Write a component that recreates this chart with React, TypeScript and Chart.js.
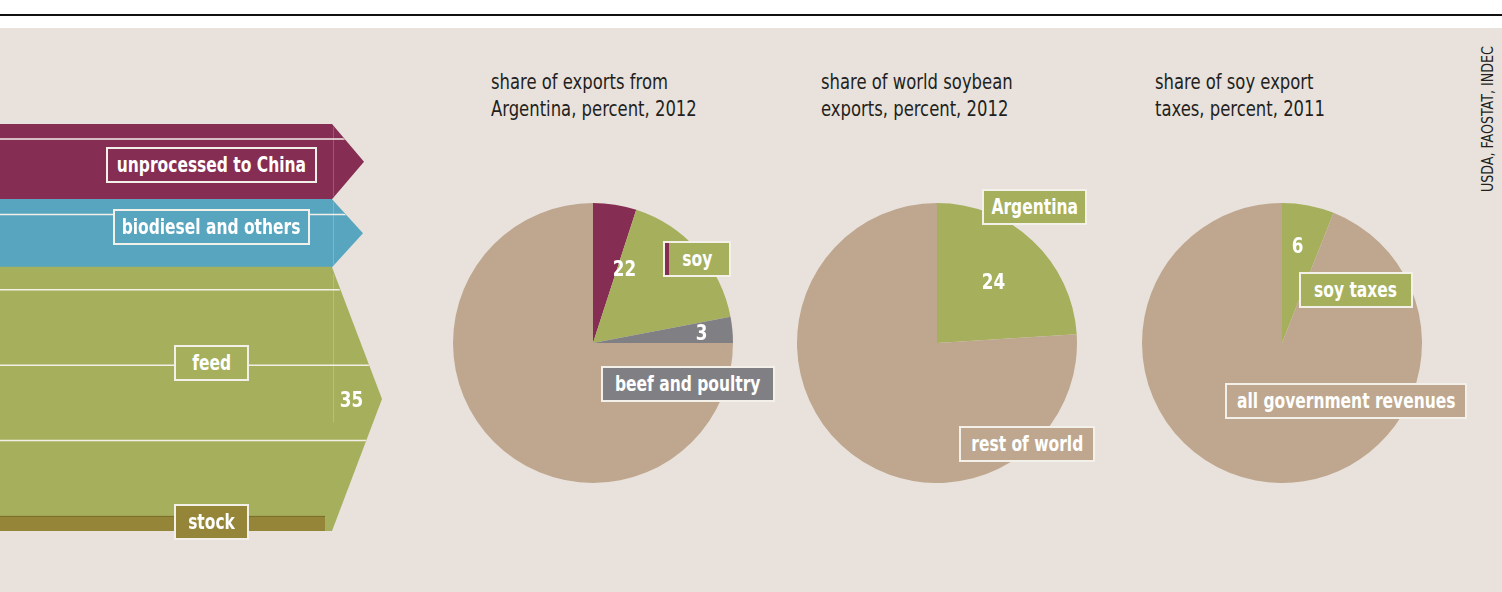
import React, { useEffect, useRef } from 'react';
import Chart from 'chart.js/auto';

// ---------- data ----------
const flowCategories = ['feed', 'biodiesel and others', 'unprocessed to China'];
const flowValues = [35, 9, 10];
const stockLabel = 'stock';
const stockValue = 2;
const flowLineValues = [12, 22, 32, 42, 52];

const exportCategories = ['soy, unprocessed', 'soy, processed', 'beef and poultry', 'other exports'];
const exportValues = [5, 17, 3, 75];
const worldCategories = ['Argentina', 'rest of world'];
const worldValues = [24, 76];
const taxCategories = ['soy taxes', 'all government revenues'];
const taxValues = [6, 94];

const pieTitles = [
  ['share of exports from', 'Argentina, percent, 2012'],
  ['share of world soybean', 'exports, percent, 2012'],
  ['share of soy export', 'taxes, percent, 2011'],
];
const sourceText = 'USDA, FAOSTAT, INDEC';

// ---------- styles ----------
const FONT = "'DejaVu Sans Condensed', 'DejaVu Sans', sans-serif";
const BOLD_SCALE = 0.82;
const TITLE_SCALE = 0.87;
const COL = {
  maroon: '#852d52',
  blue: '#58a5bf',
  green: '#a5af5c',
  stock: '#958538',
  stockEdge: '#7b6e2c',
  gray: '#808084',
  beige: '#bea78e',
  bg: '#e9e2dc',
  ink: '#231f20',
  line: '#f3efe8',
};
const flowColors = [COL.green, COL.blue, COL.maroon];
const flowTipDepths = [50, 31, 32];

function drawNumber(ctx: CanvasRenderingContext2D, text: string, x: number, y: number) {
  ctx.save();
  ctx.translate(x, y);
  ctx.scale(BOLD_SCALE + 0.03, 1);
  ctx.fillStyle = '#ffffff';
  ctx.font = `bold 22px ${FONT}`;
  ctx.textAlign = 'center';
  ctx.textBaseline = 'alphabetic';
  ctx.fillText(text, 0, 8);
  ctx.restore();
}

function FlowChart() {
  const ref = useRef<HTMLCanvasElement>(null);
  useEffect(() => {
    const total = flowValues.reduce((a, b) => a + b, 0);
    const flowPlugin = {
      id: 'flowShapes',
      afterDatasetsDraw(chart: any) {
        const ctx = chart.ctx;
        const yScale = chart.scales.y;
        const area = chart.chartArea;
        const bands = chart.data.datasets.map((ds: any, i: number) => {
          const el = chart.getDatasetMeta(i).data[0];
          const right = el.x + el.width / 2;
          const top = Math.min(el.y, el.base);
          const bottom = Math.max(el.y, el.base);
          return { right, top, bottom, tip: flowTipDepths[i], color: ds.backgroundColor };
        });
        ctx.save();
        // arrow tips
        bands.forEach((b: any) => {
          ctx.beginPath();
          ctx.moveTo(b.right - 1, b.top);
          ctx.lineTo(b.right, b.top);
          ctx.lineTo(b.right + b.tip, (b.top + b.bottom) / 2);
          ctx.lineTo(b.right, b.bottom);
          ctx.lineTo(b.right - 1, b.bottom);
          ctx.closePath();
          ctx.fillStyle = b.color;
          ctx.fill();
        });
        // stock bar
        const sTop = yScale.getPixelForValue(stockValue);
        const sBot = yScale.getPixelForValue(0);
        ctx.fillStyle = COL.stock;
        ctx.fillRect(area.left, sTop, area.right - 7 - area.left, sBot - sTop);
        ctx.fillStyle = COL.stockEdge;
        ctx.fillRect(area.left, sTop, area.right - 7 - area.left, 1);
        // clip to shape and draw flow lines
        ctx.save();
        ctx.beginPath();
        bands.forEach((b: any) => {
          ctx.rect(area.left - 1, b.top, b.right - area.left + 1, b.bottom - b.top);
          ctx.moveTo(b.right - 1, b.top);
          ctx.lineTo(b.right + b.tip, (b.top + b.bottom) / 2);
          ctx.lineTo(b.right - 1, b.bottom);
          ctx.closePath();
        });
        ctx.clip();
        ctx.strokeStyle = COL.line;
        ctx.lineWidth = 1.5;
        flowLineValues.forEach((v) => {
          const y = yScale.getPixelForValue(v);
          ctx.beginPath();
          ctx.moveTo(area.left - 2, y);
          ctx.lineTo(area.right + 80, y);
          ctx.stroke();
        });
        // faint seam line
        const topMost = Math.min(...bands.map((b: any) => b.top));
        ctx.strokeStyle = 'rgba(255,255,255,0.2)';
        ctx.lineWidth = 1;
        ctx.beginPath();
        ctx.moveTo(area.right + 1.5, topMost);
        ctx.lineTo(area.right + 1.5, yScale.getPixelForValue(flowLineValues[0]) - 18);
        ctx.stroke();
        ctx.restore();
        // value label of the feed arrow
        const g = bands[0];
        drawNumber(ctx, String(flowValues[0]), g.right + 19.5, (g.top + g.bottom) / 2);
        ctx.restore();
      },
    };
    const chart = new Chart(ref.current as HTMLCanvasElement, {
      type: 'bar',
      data: {
        labels: [''],
        datasets: flowCategories.map((c, i) => ({
          label: c,
          data: [flowValues[i]],
          backgroundColor: flowColors[i],
          borderWidth: 0,
          barPercentage: 1,
          categoryPercentage: 1,
          stack: 'flow',
        })),
      },
      options: {
        responsive: false,
        animation: false,
        devicePixelRatio: 1,
        events: [],
        layout: { padding: { left: 0, right: 68, top: 124, bottom: 61 } },
        scales: {
          x: { display: false, stacked: true },
          y: { display: false, stacked: true, min: 0, max: total },
        },
        plugins: { legend: { display: false }, tooltip: { enabled: false } },
      },
      plugins: [flowPlugin],
    });
    return () => chart.destroy();
  }, []);
  return (
    <canvas
      ref={ref}
      width={400}
      height={592}
      style={{ position: 'absolute', left: 0, top: 0, width: 400, height: 592 }}
    />
  );
}

type ValueLabel = { indices: number[]; frac: number; r: number };

function Pie({ cx, cy, radius, labels, values, colors, valueLabels }: {
  cx: number; cy: number; radius: number; labels: string[]; values: number[]; colors: string[]; valueLabels: ValueLabel[];
}) {
  const ref = useRef<HTMLCanvasElement>(null);
  useEffect(() => {
    const plugin = {
      id: 'pieValues',
      afterDatasetsDraw(chart: any) {
        const ctx = chart.ctx;
        const meta = chart.getDatasetMeta(0);
        const data = chart.data.datasets[0].data as number[];
        valueLabels.forEach((l) => {
          const first = meta.data[l.indices[0]];
          const last = meta.data[l.indices[l.indices.length - 1]];
          const a = first.startAngle + (last.endAngle - first.startAngle) * l.frac;
          const r = first.outerRadius * l.r;
          const x = first.x + r * Math.cos(a);
          const y = first.y + r * Math.sin(a);
          const sum = l.indices.reduce((s, i) => s + data[i], 0);
          drawNumber(ctx, String(sum), x, y);
        });
      },
    };
    const chart = new Chart(ref.current as HTMLCanvasElement, {
      type: 'pie',
      data: {
        labels,
        datasets: [{ data: values, backgroundColor: colors, borderWidth: 0 }],
      },
      options: {
        responsive: false,
        animation: false,
        devicePixelRatio: 1,
        events: [],
        layout: { padding: 0 },
        plugins: { legend: { display: false }, tooltip: { enabled: false } },
      },
      plugins: [plugin],
    });
    return () => chart.destroy();
  }, []);
  const size = radius * 2;
  return (
    <canvas
      ref={ref}
      width={size}
      height={size}
      style={{ position: 'absolute', left: cx - radius, top: cy - radius, width: size, height: size }}
    />
  );
}

function Box({ x, y, w, h, bg, text, strip }: { x: number; y: number; w: number; h: number; bg: string; text: string; strip?: string }) {
  return (
    <div
      style={{
        position: 'absolute',
        left: x,
        top: y,
        width: w,
        height: h,
        boxSizing: 'border-box',
        border: '2px solid #f3efe9',
        background: strip ? `linear-gradient(to right, ${strip} 4px, ${bg} 4px)` : bg,
        color: '#ffffff',
        font: `bold 21px ${FONT}`,
        display: 'flex',
        alignItems: 'center',
        justifyContent: 'center',
        whiteSpace: 'nowrap',
      }}
    >
      <span style={{ display: 'inline-block', transform: `scaleX(${BOLD_SCALE})` }}>{text}</span>
    </div>
  );
}

function Title({ x, lines }: { x: number; lines: string[] }) {
  return (
    <div
      style={{
        position: 'absolute',
        left: x,
        top: 69,
        font: `21px ${FONT}`,
        lineHeight: '26.5px',
        color: COL.ink,
        whiteSpace: 'nowrap',
        transform: `scaleX(${TITLE_SCALE})`,
        transformOrigin: 'left top',
      }}
    >
      {lines.map((l, i) => (
        <div key={i}>{l}</div>
      ))}
    </div>
  );
}

export default function App() {
  useEffect(() => {
    document.body.style.margin = '0';
  }, []);
  return (
    <div style={{ position: 'absolute', left: 0, top: 0, width: 1502, height: 592, background: '#ffffff', overflow: 'hidden' }}>
      <div style={{ position: 'absolute', left: 0, top: 14, width: 1502, height: 2, background: '#111111' }} />
      <div style={{ position: 'absolute', left: 0, top: 28, width: 1502, height: 564, background: COL.bg }} />

      <FlowChart />
      <Box x={106} y={147} w={211} h={36} bg={COL.maroon} text={flowCategories[2]} />
      <Box x={113} y={209} w={197} h={36} bg={COL.blue} text={flowCategories[1]} />
      <Box x={174} y={345} w={75} h={36} bg={COL.green} text={flowCategories[0]} />
      <Box x={174} y={504} w={75} h={36} bg={COL.stock} text={stockLabel} />

      <Title x={491} lines={pieTitles[0]} />
      <Title x={821} lines={pieTitles[1]} />
      <Title x={1155} lines={pieTitles[2]} />

      <Pie
        cx={593}
        cy={343}
        radius={140}
        labels={exportCategories}
        values={exportValues}
        colors={[COL.maroon, COL.green, COL.gray, COL.beige]}
        valueLabels={[
          { indices: [0, 1], frac: 0.288, r: 0.58 },
          { indices: [2], frac: 0.46, r: 0.78 },
        ]}
      />
      <Box x={663} y={241} w={68} h={36} bg={COL.green} strip={COL.maroon} text="soy" />
      <Box x={601} y={366} w={174} h={36} bg={COL.gray} text={exportCategories[2]} />

      <Pie
        cx={937}
        cy={343}
        radius={140}
        labels={worldCategories}
        values={worldValues}
        colors={[COL.green, COL.beige]}
        valueLabels={[{ indices: [0], frac: 0.49, r: 0.6 }]}
      />
      <Box x={982} y={189} w={105} h={36} bg={COL.green} text={worldCategories[0]} />
      <Box x={959} y={426} w={136} h={36} bg={COL.beige} text={worldCategories[1]} />

      <Pie
        cx={1282}
        cy={343}
        radius={140}
        labels={taxCategories}
        values={taxValues}
        colors={[COL.green, COL.beige]}
        valueLabels={[{ indices: [0], frac: 0.42, r: 0.71 }]}
      />
      <Box x={1299} y={272} w={114} h={36} bg={COL.green} text={taxCategories[0]} />
      <Box x={1225} y={383} w={242} h={36} bg={COL.beige} text={taxCategories[1]} />

      <div
        style={{
          position: 'absolute',
          left: 1479,
          top: 192,
          font: `16px ${FONT}`,
          lineHeight: '17px',
          color: COL.ink,
          whiteSpace: 'nowrap',
          transform: 'rotate(-90deg) scaleX(0.88)',
          transformOrigin: 'left top',
        }}
      >
        {sourceText}
      </div>
    </div>
  );
}
